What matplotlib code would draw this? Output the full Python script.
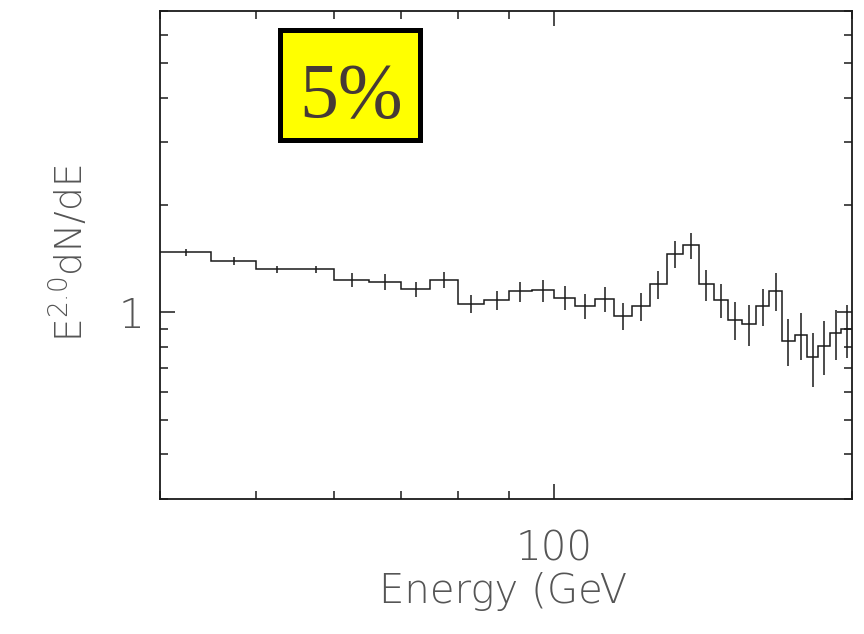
import numpy as np
import matplotlib
matplotlib.use('Agg')
import matplotlib.pyplot as plt
from matplotlib.patches import Rectangle
from matplotlib.ticker import NullFormatter, LogLocator

# bin edges (GeV), spectrum values and errors
edges = [40, 45, 50, 55, 60, 65, 70, 75, 80, 85, 90, 95, 100, 105, 110, 115,
         120, 125, 130, 135, 140, 145, 150, 155, 160, 165, 170, 175, 180, 185,
         190, 195, 200]
flux = [1.474, 1.396, 1.323, 1.323, 1.233, 1.219, 1.161, 1.235, 1.058, 1.081,
        1.146, 1.153, 1.100, 1.042, 1.092, 0.979, 1.042, 1.199, 1.461, 1.545,
        1.199, 1.083, 0.952, 0.928, 1.042, 1.150, 0.833, 0.864, 0.748, 0.806,
        0.874, 0.897]
flux_err = [0.03, 0.035, 0.03, 0.03, 0.057, 0.06, 0.057, 0.065, 0.063, 0.068,
            0.075, 0.08, 0.085, 0.082, 0.09, 0.085, 0.095, 0.11, 0.125, 0.13,
            0.12, 0.12, 0.115, 0.12, 0.125, 0.14, 0.125, 0.13, 0.13, 0.14,
            0.14, 0.15]
label_text = '5%'

grey = '#555555'
plt.rcParams['font.family'] = ['DejaVu Sans']
plt.rcParams['font.weight'] = 200
plt.rcParams['font.serif'] = ['Liberation Serif', 'DejaVu Serif']
plt.rcParams['mathtext.fontset'] = 'custom'
plt.rcParams['mathtext.rm'] = 'DejaVu Sans:extralight'

fig = plt.figure(figsize=(8.64, 6.34), dpi=100)
ax = fig.add_axes([160 / 864, 1 - 499 / 634, 692 / 864, 488 / 634])

centers = [(a + b) / 2 for a, b in zip(edges[:-1], edges[1:])]
ax.stairs(flux, edges, baseline=None, color='#1a1a1a', lw=1.1)
ax.errorbar(centers, flux, yerr=flux_err, fmt='none', ecolor='#1a1a1a',
            elinewidth=1.1, capsize=0)

ax.set_xscale('log')
ax.set_yscale('log')
ax.set_xlim(40, 200)
ax.set_ylim(0.3, 7)

ax.set_xticks([100], ['100'])
ax.set_yticks([1], ['1'])
ax.xaxis.set_minor_locator(LogLocator(subs=np.arange(2, 10)))
ax.yaxis.set_minor_locator(LogLocator(subs=np.arange(2, 10)))
ax.xaxis.set_minor_formatter(NullFormatter())
ax.yaxis.set_minor_formatter(NullFormatter())

ax.tick_params(which='both', direction='in', top=True, right=True,
               color='#1a1a1a', width=1.1)
ax.tick_params(which='major', length=11, labelsize=29, labelcolor=grey)
ax.tick_params(which='minor', length=5.5)
ax.tick_params(axis='x', which='major', pad=22)
ax.tick_params(axis='y', which='major', pad=11)
for s in ax.spines.values():
    s.set_linewidth(1.3)
    s.set_color('#1a1a1a')

fig.text(503 / 864, 1 - 603 / 634, 'Energy (GeV', fontsize=29, color=grey,
         ha='center', va='baseline')
fig.text(69 / 864, 1 - 253 / 634, r'$\mathrm{E^{2.0}dN/dE}$', fontsize=27,
         color=grey, rotation=90, ha='center', va='center')

# yellow label box
ax.add_patch(Rectangle((279.5 / 864, 1 - 140.5 / 634), 140 / 864, 110 / 634,
                       transform=fig.transFigure, facecolor='#ffff00',
                       edgecolor='black', lw=3.6, zorder=5))
fig.text(351 / 864, 1 - 117 / 634, label_text, fontsize=56,
         family='serif', weight='normal', color='#463a36',
         ha='center', va='baseline', zorder=6)

fig.savefig('out.png', dpi=100)
